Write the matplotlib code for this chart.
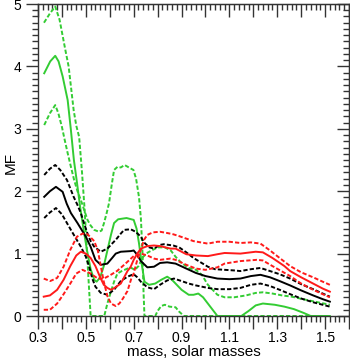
import matplotlib
matplotlib.use('Agg')
import matplotlib.pyplot as plt
from matplotlib.ticker import MultipleLocator, FuncFormatter

plt.rcParams['font.family'] = ['Liberation Sans', 'DejaVu Sans']

# --- green set (the three curves cross each other) ---
green_a_m = [0.325, 0.35, 0.372, 0.39, 0.40, 0.415, 0.428, 0.44, 0.449, 0.46, 0.472, 0.484,
             0.495, 0.505, 0.514, 0.52, 0.577, 0.59, 0.604, 0.618, 0.632, 0.65, 0.674, 0.69,
             0.705, 0.72, 0.74, 0.76, 0.78, 0.80, 0.83, 0.855, 0.875, 0.90, 0.93, 0.96, 0.985,
             1.01, 1.05, 1.08, 1.12, 1.17, 1.21, 1.24, 1.28, 1.32, 1.36, 1.42, 1.47, 1.52]
green_a_mf = [4.70, 4.85, 4.96, 4.75, 4.55, 4.25, 4.0, 3.6, 3.3, 3.05, 2.87, 2.3,
              1.7, 1.0, 0.4, 0.0, 0.0, 0.2, 0.38, 0.55, 0.68, 0.72, 0.76, 0.77,
              0.74, 0.8, 0.95, 1.02, 1.06, 1.1, 1.1, 1.05, 0.95, 0.85, 0.77, 0.74, 0.66,
              0.5, 0.34, 0.30, 0.30, 0.33, 0.37, 0.38, 0.36, 0.33, 0.31, 0.26, 0.22, 0.18]

green_b_m = [0.326, 0.351, 0.372, 0.386, 0.403, 0.424, 0.437, 0.45, 0.4625, 0.476, 0.49, 0.505,
             0.52, 0.535, 0.545, 0.56, 0.575, 0.59, 0.605, 0.618, 0.635, 0.67, 0.70, 0.712,
             0.722, 0.735, 0.745, 0.764, 0.79, 0.815, 0.84, 0.86, 0.875, 0.90, 0.93, 0.95,
             0.97, 0.99, 1.01, 1.03, 1.05, 1.15, 1.18, 1.21, 1.24, 1.29, 1.33, 1.37, 1.41,
             1.44, 1.52]
green_b_mf = [3.89, 4.08, 4.17, 4.08, 3.84, 3.46, 3.0, 2.5, 2.15, 1.75, 1.4, 1.05,
              0.75, 0.58, 0.55, 0.62, 0.8, 1.05, 1.3, 1.49, 1.55, 1.57, 1.54, 1.4,
              1.17, 0.8, 0.55, 0.5, 0.52, 0.58, 0.63, 0.58, 0.52, 0.42, 0.34, 0.34,
              0.36, 0.3, 0.2, 0.1, 0.0, 0.0, 0.08, 0.17, 0.2, 0.18, 0.15, 0.11, 0.05,
              0.0, 0.0]

green_c_m = [0.326, 0.35, 0.372, 0.385, 0.40, 0.41, 0.424, 0.437, 0.451, 0.465, 0.479, 0.493,
             0.507, 0.52, 0.535, 0.555, 0.566, 0.576, 0.587, 0.597, 0.608, 0.618, 0.632, 0.646,
             0.662, 0.68, 0.699, 0.71, 0.722, 0.73, 0.737, 0.741, 0.745, 0.79, 0.80, 0.815,
             0.83, 0.85, 0.875, 0.89, 0.91, 1.52]
green_c_mf = [3.06, 3.25, 3.38, 3.25, 3.03, 2.85, 2.61, 2.4, 2.18, 2.0, 1.86, 1.7,
              1.54, 1.45, 1.38, 1.35, 1.37, 1.49, 1.65, 1.81, 2.1, 2.34, 2.39, 2.38,
              2.42, 2.38, 2.34, 2.2, 1.91, 1.57, 1.0, 0.4, 0.0, 0.0, 0.08, 0.16,
              0.18, 0.15, 0.14, 0.07, 0.0, 0.0]

# --- black set ---
black_up_m = [0.326, 0.35, 0.372, 0.393, 0.421, 0.449, 0.465, 0.479, 0.493, 0.507, 0.52, 0.535,
              0.5625, 0.59, 0.607, 0.625, 0.646, 0.66, 0.6875, 0.708, 0.73, 0.743, 0.765, 0.785,
              0.81, 0.826, 0.865, 0.89, 0.92, 0.95, 0.98, 1.01, 1.04, 1.08, 1.12, 1.146,
              1.19, 1.23, 1.27, 1.31, 1.354, 1.40, 1.45, 1.49, 1.52]
black_up_mf = [2.26, 2.36, 2.42, 2.34, 2.18, 1.91, 1.78, 1.65, 1.48, 1.32, 1.2, 1.11,
               1.03, 1.08, 1.15, 1.22, 1.32, 1.38, 1.39, 1.35, 1.27, 1.18, 1.1, 1.08,
               1.14, 1.15, 1.13, 1.1, 1.02, 0.93, 0.86, 0.79, 0.75, 0.74, 0.73, 0.72,
               0.75, 0.77, 0.72, 0.67, 0.6, 0.51, 0.43, 0.36, 0.31]

black_mid_m = [0.326, 0.35, 0.375, 0.403, 0.42, 0.4375, 0.465, 0.5, 0.52, 0.54, 0.5625, 0.59,
               0.61, 0.625, 0.646, 0.6875, 0.70, 0.715, 0.73, 0.757, 0.785, 0.81, 0.84, 0.875,
               0.92, 0.96, 1.0, 1.05, 1.1, 1.146, 1.19, 1.23, 1.27, 1.31, 1.354, 1.40,
               1.45, 1.49, 1.52]
black_mid_mf = [1.91, 2.0, 2.07, 1.99, 1.8, 1.65, 1.49, 1.27, 1.11, 0.9, 0.82, 0.84,
                0.93, 1.0, 1.03, 1.04, 1.05, 0.98, 0.88, 0.78, 0.79, 0.85, 0.86, 0.84,
                0.76, 0.69, 0.64, 0.6, 0.59, 0.6, 0.64, 0.66, 0.62, 0.56, 0.49, 0.41,
                0.33, 0.27, 0.23]

black_lo_m = [0.326, 0.35, 0.375, 0.40, 0.4375, 0.479, 0.50, 0.514, 0.527, 0.54, 0.5625, 0.59,
              0.618, 0.646, 0.674, 0.70, 0.715, 0.73, 0.757, 0.785, 0.81, 0.84, 0.868, 0.90,
              0.93, 0.96, 1.01, 1.05, 1.1, 1.146, 1.19, 1.23, 1.27, 1.31, 1.354, 1.40,
              1.45, 1.49, 1.52]
black_lo_mf = [1.57, 1.66, 1.73, 1.63, 1.38, 1.11, 0.95, 0.79, 0.6, 0.47, 0.37, 0.34,
               0.42, 0.56, 0.63, 0.67, 0.62, 0.55, 0.46, 0.43, 0.5, 0.57, 0.6, 0.56,
               0.52, 0.49, 0.45, 0.43, 0.43, 0.45, 0.5, 0.52, 0.48, 0.42, 0.35, 0.28,
               0.22, 0.18, 0.15]

# --- red set ---
red_a_m = [0.324, 0.351, 0.38, 0.407, 0.435, 0.4625, 0.486, 0.507, 0.52, 0.535, 0.55, 0.56,
           0.575, 0.59, 0.605, 0.625, 0.64, 0.655, 0.674, 0.69, 0.70, 0.715, 0.73, 0.743,
           0.757, 0.78, 0.81, 0.84, 0.865, 0.89, 0.92, 0.95, 0.98, 1.01, 1.05, 1.1,
           1.146, 1.19, 1.23, 1.27, 1.31, 1.354, 1.40, 1.45, 1.49, 1.52]
red_a_mf = [0.6, 0.56, 0.61, 0.79, 1.06, 1.27, 1.32, 1.31, 1.26, 1.2, 1.05, 0.85,
            0.55, 0.32, 0.2, 0.16, 0.2, 0.28, 0.4, 0.6, 0.68, 0.9, 1.06, 1.22,
            1.3, 1.34, 1.35, 1.33, 1.31, 1.28, 1.24, 1.2, 1.18, 1.16, 1.19, 1.19,
            1.17, 1.18, 1.16, 1.05, 0.93, 0.8, 0.7, 0.62, 0.55, 0.5]

red_b_m = [0.324, 0.35, 0.38, 0.407, 0.435, 0.46, 0.479, 0.50, 0.52, 0.54, 0.56, 0.575,
           0.59, 0.605, 0.62, 0.646, 0.674, 0.6875, 0.70, 0.715, 0.73, 0.757, 0.785, 0.81,
           0.854, 0.875, 0.92, 0.96, 1.01, 1.05, 1.08, 1.146, 1.21, 1.24, 1.28, 1.33,
           1.354, 1.40, 1.45, 1.49, 1.52]
red_b_mf = [0.31, 0.33, 0.42, 0.58, 0.8, 0.97, 1.03, 1.0, 0.93, 0.8, 0.62, 0.5,
            0.45, 0.42, 0.45, 0.52, 0.72, 0.79, 0.9, 1.0, 1.08, 1.12, 1.13, 1.12,
            1.08, 1.08, 0.99, 0.97, 0.96, 0.99, 1.01, 1.0, 1.03, 1.02, 0.93, 0.8,
            0.72, 0.62, 0.52, 0.44, 0.39]

red_c_m = [0.324, 0.35, 0.38, 0.407, 0.435, 0.46, 0.486, 0.52, 0.55, 0.575, 0.60, 0.63,
           0.66, 0.70, 0.73, 0.757, 0.785, 0.81, 0.854, 0.875, 0.92, 0.96, 1.0, 1.05,
           1.08, 1.146, 1.215, 1.24, 1.28, 1.354, 1.40, 1.45, 1.49, 1.52]
red_c_mf = [0.1, 0.1, 0.2, 0.35, 0.52, 0.68, 0.74, 0.68, 0.6, 0.6, 0.65, 0.72,
            0.82, 0.96, 1.0, 0.97, 0.92, 0.9, 0.92, 0.9, 0.82, 0.76, 0.74, 0.78,
            0.84, 0.88, 0.9, 0.89, 0.8, 0.64, 0.52, 0.42, 0.35, 0.3]

GREEN = '#33cc33'
RED = '#ff1a1a'
BLACK = '#000000'
DASH = (2.2, 1.1)

fig = plt.figure(figsize=(3.5, 3.6), dpi=100)
ax = fig.add_axes([38 / 350, 44 / 360, 311 / 350, 312 / 360])

curves = [
    (green_a_m, green_a_mf, GREEN, True),
    (green_b_m, green_b_mf, GREEN, False),
    (green_c_m, green_c_mf, GREEN, True),
    (black_up_m, black_up_mf, BLACK, True),
    (black_mid_m, black_mid_mf, BLACK, False),
    (black_lo_m, black_lo_mf, BLACK, True),
    (red_a_m, red_a_mf, RED, True),
    (red_b_m, red_b_mf, RED, False),
    (red_c_m, red_c_mf, RED, True),
]
for m, mf, col, dashed in curves:
    line, = ax.plot(m, mf, color=col, lw=1.4, solid_joinstyle='round')
    if dashed:
        line.set_dashes(DASH)

ax.set_xlim(0.3, 1.6)
ax.set_ylim(0, 5)

ax.xaxis.set_major_locator(MultipleLocator(0.1))
ax.xaxis.set_minor_locator(MultipleLocator(0.02))
ax.xaxis.set_major_formatter(FuncFormatter(
    lambda v, p: f'{v:.1f}' if round(v * 10) % 2 == 1 else ''))
ax.yaxis.set_major_locator(MultipleLocator(1))
ax.yaxis.set_minor_locator(MultipleLocator(0.1))

frame = '#333333'
for s in ax.spines.values():
    s.set_color(frame)
    s.set_linewidth(1.0)

ax.tick_params(which='major', direction='out', length=9, width=1.0, color=frame,
               labelsize=10, pad=3)
ax.tick_params(axis='x', which='major', pad=1.5)
ax.tick_params(which='minor', direction='out', length=4.5, width=1.0, color=frame)

# ticks on top and right point inward
top = ax.secondary_xaxis('top')
top.xaxis.set_major_locator(MultipleLocator(0.1))
top.xaxis.set_minor_locator(MultipleLocator(0.02))
top.tick_params(which='major', direction='in', length=9, width=1.0, color=frame, labeltop=False)
top.tick_params(which='minor', direction='in', length=4.5, width=1.0, color=frame)
top.spines['top'].set_color(frame)

right = ax.secondary_yaxis('right')
right.yaxis.set_major_locator(MultipleLocator(1))
right.yaxis.set_minor_locator(MultipleLocator(0.1))
right.tick_params(which='major', direction='in', length=9, width=1.0, color=frame, labelright=False)
right.tick_params(which='minor', direction='in', length=4.5, width=1.0, color=frame)
right.spines['right'].set_color(frame)

ax.set_xlabel('mass, solar masses', fontsize=11, va='center')
ax.xaxis.set_label_coords(0.5, -36 / 312)
ax.set_ylabel('MF', fontsize=11, va='center')
ax.yaxis.set_label_coords(-27 / 311, 0.49)

fig.savefig('out.png', dpi=100)
